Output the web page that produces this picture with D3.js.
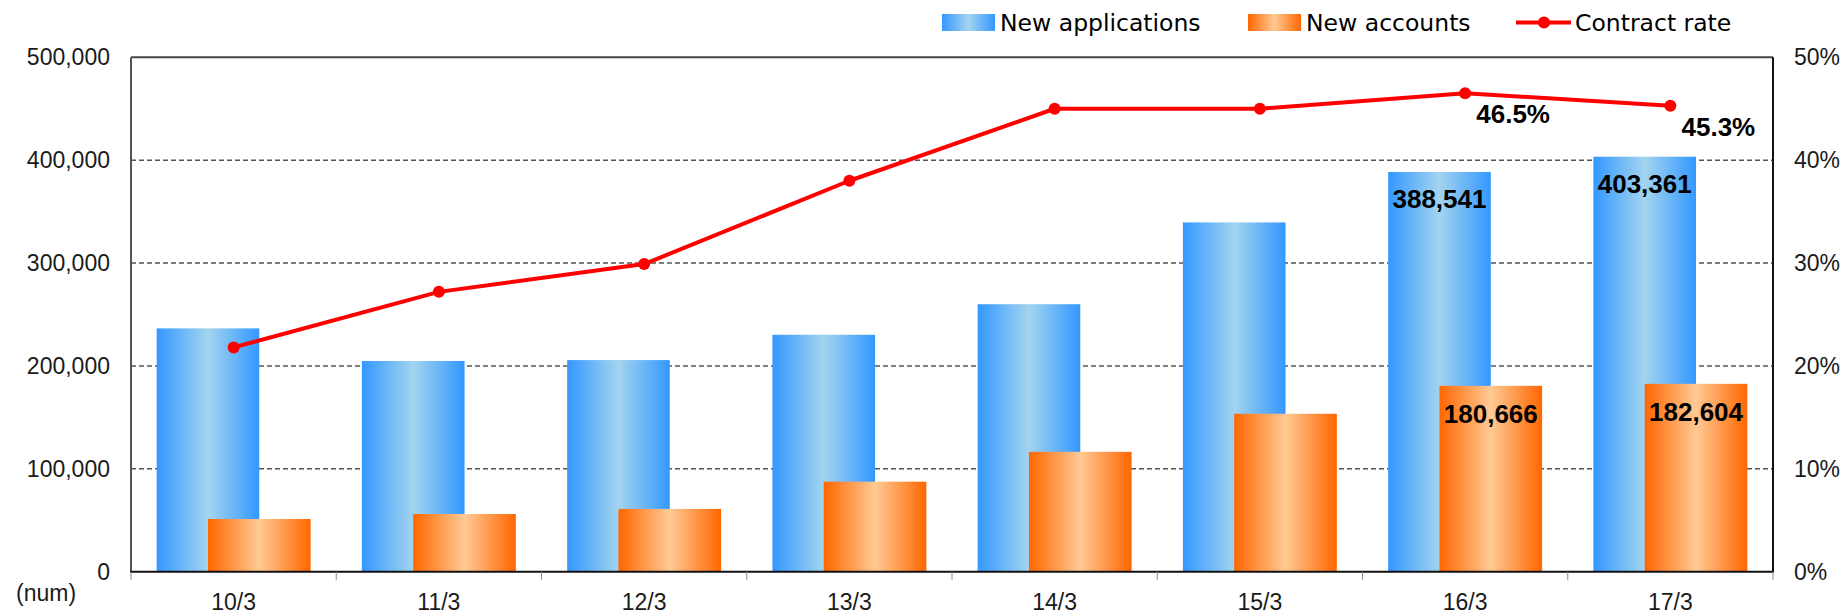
<!DOCTYPE html>
<html>
<head>
<meta charset="utf-8">
<script src="https://cdn.jsdelivr.net/npm/d3@7"></script>
<style>
  html, body { margin: 0; padding: 0; background: #fff; }
  svg { display: block; }
  .tick text { font-family: "Liberation Sans", Arial, sans-serif; font-size: 23px; fill: #1a1a1a; }
</style>
</head>
<body>
<svg id="chart" width="1845" height="615"></svg>
<script>
// Fiscal years (ending March)
const categories = ["10/3", "11/3", "12/3", "13/3", "14/3", "15/3", "16/3", "17/3"];
// New applications (count)
const newApplications = [236500, 204800, 205700, 230300, 260000, 339500, 388541, 403361];
// New accounts (count)
const newAccounts = [51200, 56100, 61000, 87500, 116500, 153500, 180666, 182604];
// Contract rate (%)
const contractRate = [21.8, 27.2, 29.9, 38.0, 45.0, 45.0, 46.5, 45.3];
// Which points carry value labels
const labelledIdx = [6, 7];
// Axis ticks
const countTicks = [0, 100000, 200000, 300000, 400000, 500000];
const rateTicks = [0, 10, 20, 30, 40, 50];
const seriesNames = ["New applications", "New accounts", "Contract rate"];

const svg = d3.select("#chart");
const plotL = 131, plotR = 1773, plotT = 57.3, plotB = 571.7;

const x = d3.scaleBand().domain(categories).range([plotL, plotR]).padding(0);
const y = d3.scaleLinear().domain([0, 500000]).range([plotB, plotT]);
const yr = d3.scaleLinear().domain([0, 50]).range([plotB, plotT]);
const bw = x.bandwidth();
const barW = bw * 0.5;

// Gradients for the bars
const defs = svg.append("defs");
function grad(id, edge, mid) {
  const g = defs.append("linearGradient").attr("id", id)
    .attr("x1", 0).attr("x2", 1).attr("y1", 0).attr("y2", 0);
  g.append("stop").attr("offset", 0).attr("stop-color", edge);
  g.append("stop").attr("offset", 0.5).attr("stop-color", mid);
  g.append("stop").attr("offset", 1).attr("stop-color", edge);
}
grad("gBlue", "#3398FF", "#A3D4EF");
grad("gOrange", "#FF6600", "#FFCA94");

// Dashed gridlines
svg.append("g").selectAll("line")
  .data(countTicks.filter(d => d > 0 && d < 500000))
  .join("line")
  .attr("x1", plotL).attr("x2", plotR)
  .attr("y1", d => y(d)).attr("y2", d => y(d))
  .attr("stroke", "#555").attr("stroke-width", 1.4)
  .attr("stroke-dasharray", "5,3");

// Bars
svg.append("g").selectAll("rect")
  .data(newApplications)
  .join("rect")
  .attr("x", (d, i) => x(categories[i]) + bw * 0.125)
  .attr("y", d => y(d))
  .attr("width", barW)
  .attr("height", d => plotB - y(d))
  .attr("fill", "url(#gBlue)");

svg.append("g").selectAll("rect")
  .data(newAccounts)
  .join("rect")
  .attr("x", (d, i) => x(categories[i]) + bw * 0.375)
  .attr("y", d => y(d))
  .attr("width", barW)
  .attr("height", d => plotB - y(d))
  .attr("fill", "url(#gOrange)");

// Frame
const frame = svg.append("g").attr("fill", "none").attr("stroke-width", 2);
frame.append("line").attr("x1", plotL).attr("x2", plotR).attr("y1", plotT).attr("y2", plotT).attr("stroke", "#444");
frame.append("line").attr("x1", plotL).attr("x2", plotL).attr("y1", plotT).attr("y2", plotB).attr("stroke", "#555");
frame.append("line").attr("x1", plotR).attr("x2", plotR).attr("y1", plotT).attr("y2", plotB).attr("stroke", "#111");
frame.append("line").attr("x1", plotL - 1).attr("x2", plotR + 1).attr("y1", plotB).attr("y2", plotB).attr("stroke", "#111");

// Category boundary ticks
svg.append("g").selectAll("line")
  .data(d3.range(categories.length + 1))
  .join("line")
  .attr("x1", i => plotL + i * bw).attr("x2", i => plotL + i * bw)
  .attr("y1", plotB).attr("y2", plotB + 8)
  .attr("stroke", "#888").attr("stroke-width", 1);

// Axes
const axL = svg.append("g").attr("transform", `translate(${plotL},0)`)
  .call(d3.axisLeft(y).tickValues(countTicks).tickSize(0).tickPadding(21)
    .tickFormat(d3.format(",")));
axL.select(".domain").remove();

const axR = svg.append("g").attr("transform", `translate(${plotR},0)`)
  .call(d3.axisRight(yr).tickValues(rateTicks).tickSize(0).tickPadding(21)
    .tickFormat(d => d + "%"));
axR.select(".domain").remove();

const axB = svg.append("g").attr("transform", `translate(0,${plotB})`)
  .call(d3.axisBottom(x).tickSize(0).tickPadding(22));
axB.select(".domain").remove();

svg.append("text").attr("x", 16).attr("y", 601)
  .attr("font-family", "Liberation Sans, Arial, sans-serif").attr("font-size", 23)
  .attr("fill", "#1a1a1a").text("(num)");

// Contract rate line
const cx = i => x(categories[i]) + bw / 2;
const line = d3.line().x((d, i) => cx(i)).y(d => yr(d));
svg.append("path").datum(contractRate)
  .attr("d", line).attr("fill", "none")
  .attr("stroke", "#FF0000").attr("stroke-width", 4).attr("stroke-linejoin", "round");
svg.append("g").selectAll("circle")
  .data(contractRate)
  .join("circle")
  .attr("cx", (d, i) => cx(i)).attr("cy", d => yr(d)).attr("r", 6)
  .attr("fill", "#FF0000");

// Value labels
const lbl = svg.append("g")
  .attr("font-family", "Liberation Sans, Arial, sans-serif")
  .attr("font-weight", "bold").attr("font-size", 26)
  .attr("fill", "#000").attr("text-anchor", "middle");
const fmt = d3.format(",");
labelledIdx.forEach(i => {
  lbl.append("text")
    .attr("x", x(categories[i]) + bw * 0.125 + barW / 2)
    .attr("y", y(newApplications[i]) + 36)
    .text(fmt(newApplications[i]));
  lbl.append("text")
    .attr("x", x(categories[i]) + bw * 0.375 + barW / 2)
    .attr("y", y(newAccounts[i]) + 37)
    .text(fmt(newAccounts[i]));
  lbl.append("text")
    .attr("x", cx(i) + 48)
    .attr("y", yr(contractRate[i]) + 30)
    .text(contractRate[i].toFixed(1) + "%");
});

// Legend
const lg = svg.append("g")
  .attr("font-family", "DejaVu Sans, Verdana, sans-serif").attr("font-size", 23.5).attr("fill", "#000");
const legendX = [942, 1248, 1516];
const swW = 53;
seriesNames.forEach((name, k) => {
  const lx = legendX[k];
  if (k < 2) {
    lg.append("rect").attr("x", lx).attr("y", 14).attr("width", swW).attr("height", 17)
      .attr("fill", k === 0 ? "url(#gBlue)" : "url(#gOrange)");
  } else {
    lg.append("line").attr("x1", lx).attr("x2", lx + 55).attr("y1", 22.5).attr("y2", 22.5)
      .attr("stroke", "#FF0000").attr("stroke-width", 4);
    lg.append("circle").attr("cx", lx + 28).attr("cy", 22.5).attr("r", 6).attr("fill", "#FF0000");
  }
  lg.append("text").attr("x", lx + (k < 2 ? 58 : 59)).attr("y", 31).text(name);
});
</script>
</body>
</html>
